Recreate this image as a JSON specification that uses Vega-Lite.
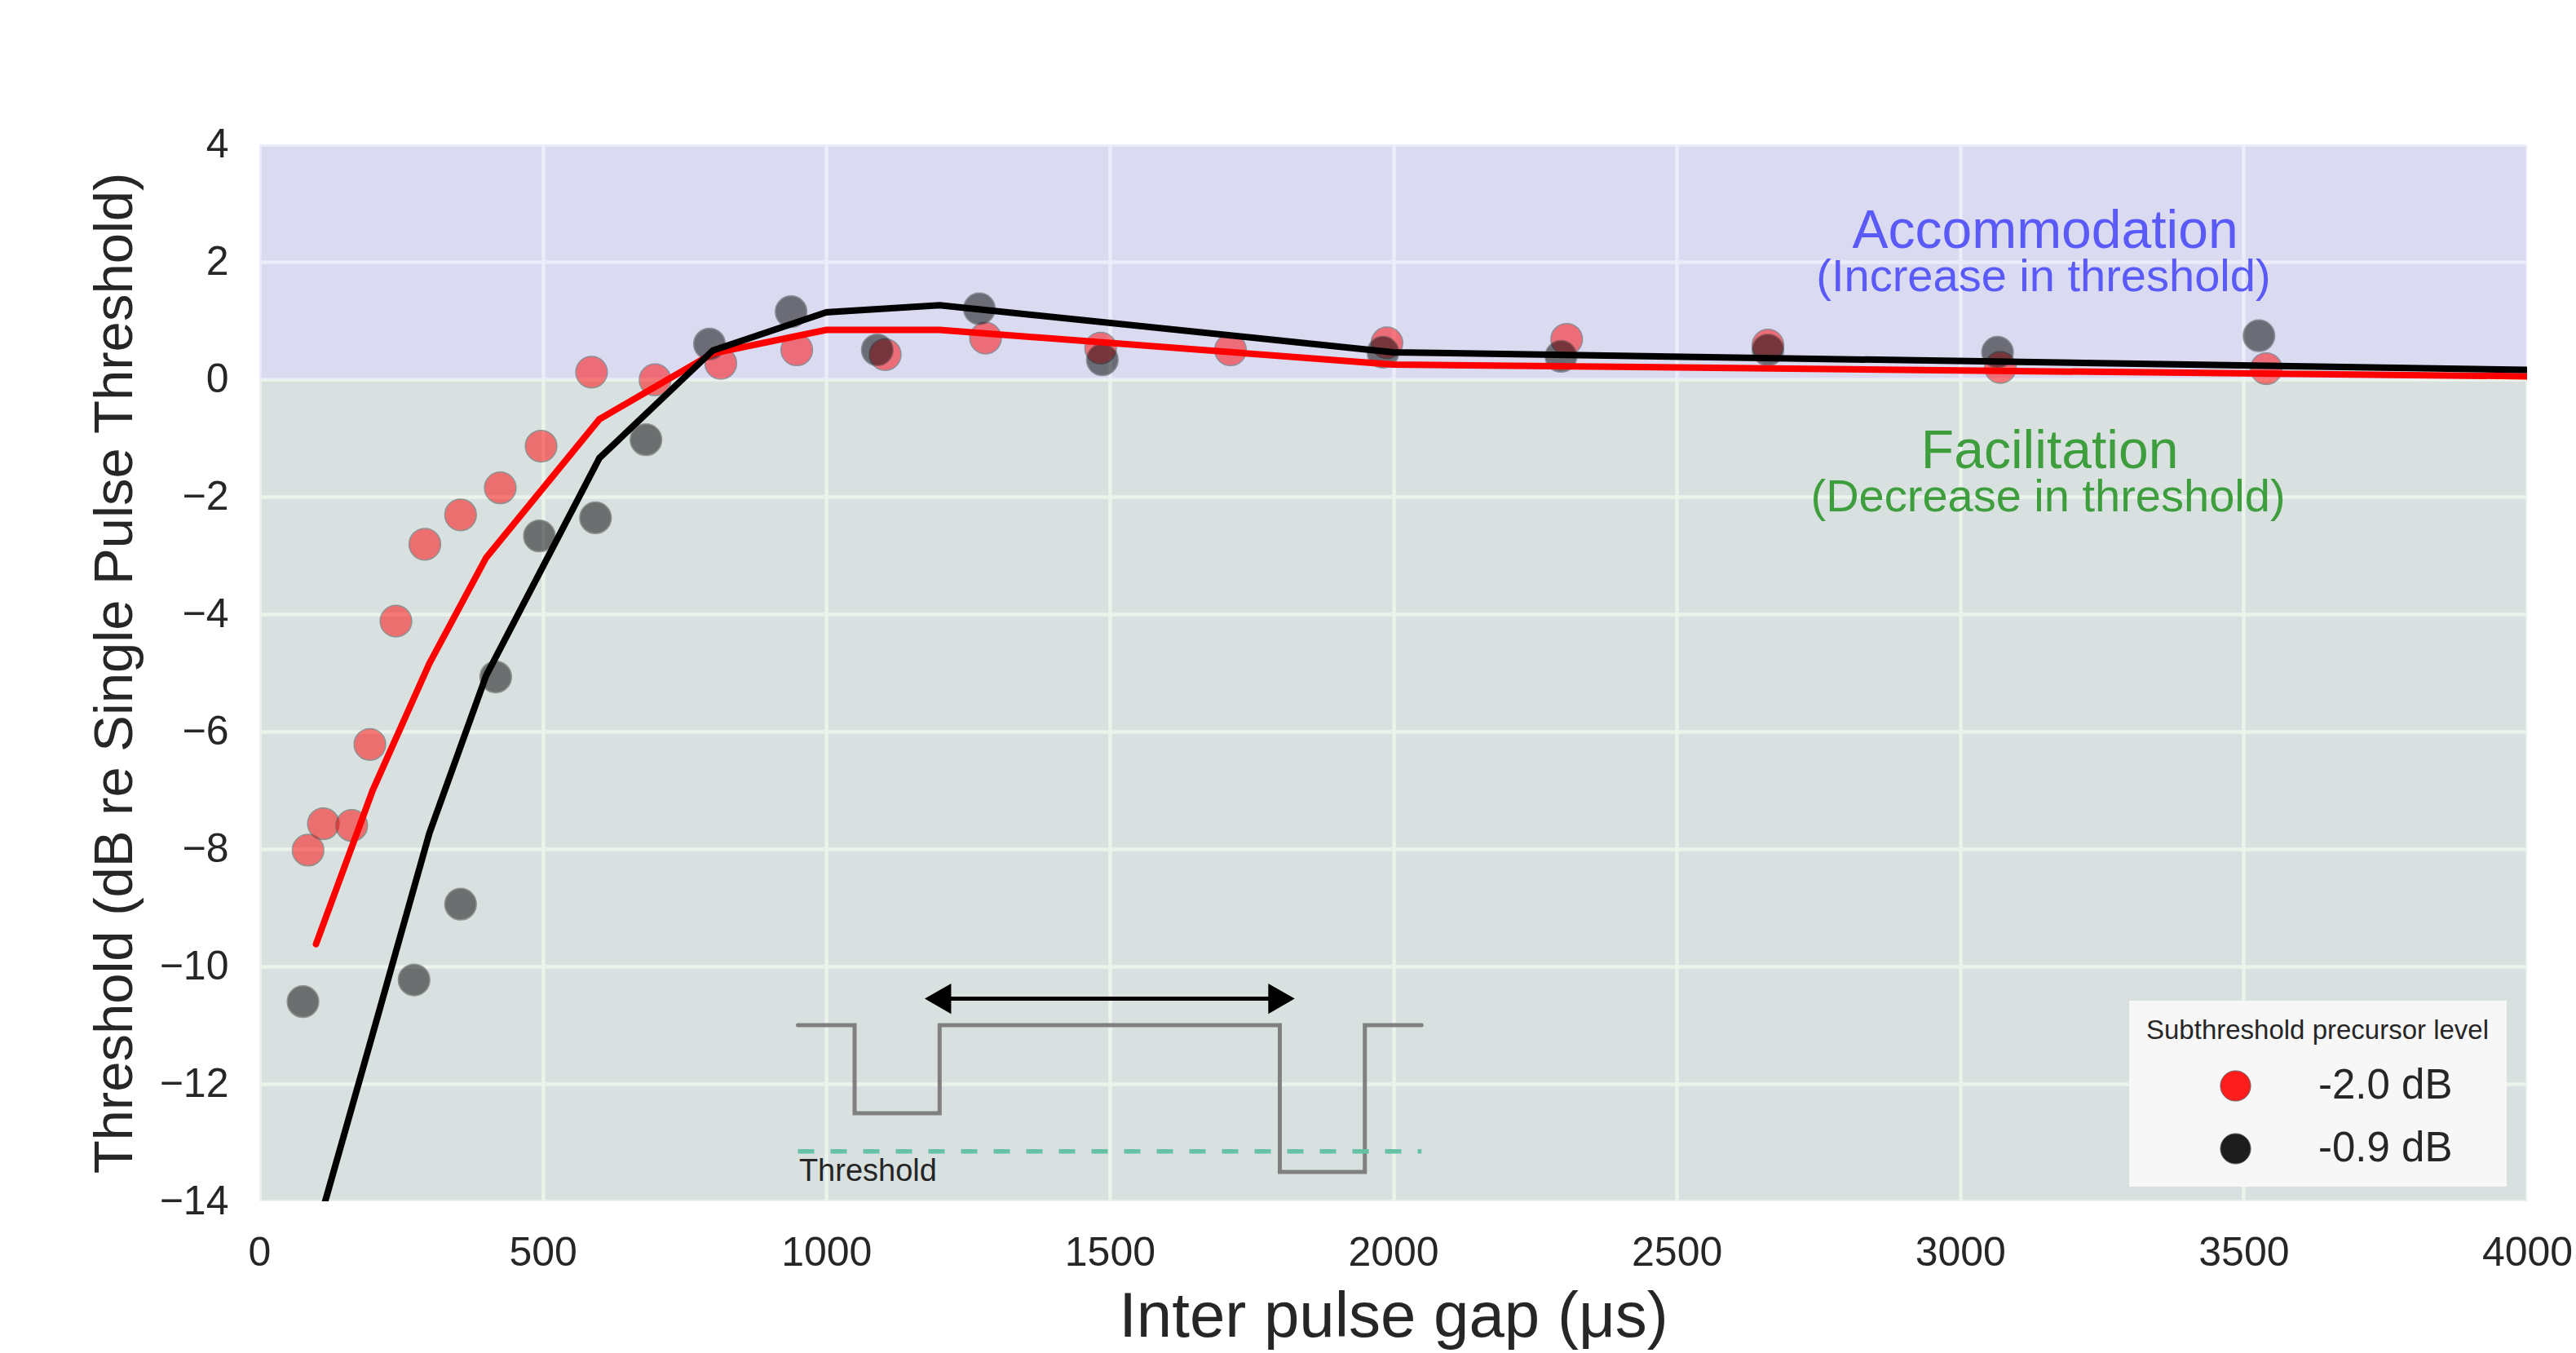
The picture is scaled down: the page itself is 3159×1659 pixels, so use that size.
{
  "$schema": "https://vega.github.io/schema/vega-lite/v6.json",
  "width": 2781,
  "height": 1296,
  "autosize": {"type": "none"},
  "padding": {"left": 318, "top": 177, "right": 60, "bottom": 186},
  "background": "white",
  "config": {
    "view": {"stroke": null, "fill": "#EAEAF2"},
    "font": "Liberation Sans",
    "axis": {
      "domain": false,
      "ticks": false,
      "grid": true,
      "gridColor": "white",
      "gridWidth": 4.5,
      "labelFont": "Liberation Sans",
      "labelFontSize": 50,
      "labelColor": "#262626",
      "labelPadding": 38,
      "labelFlush": false,
      "labelOverlap": false,
      "titleFont": "Liberation Sans",
      "titleColor": "#262626",
      "titleFontWeight": "normal"
    },
    "legend": {"labelFont": "Liberation Sans", "titleFont": "Liberation Sans"}
  },
  "datasets": {
    "regions": [
      {"region": "Accommodation", "gap": 0, "gapEnd": 4000, "thr": 0, "thrEnd": 4},
      {"region": "Facilitation", "gap": 0, "gapEnd": 4000, "thr": -14, "thrEnd": 0}
    ],
    "pts": [
      {"gap": 86, "thr": -8.02, "level": "-2.0 dB"},
      {"gap": 113, "thr": -7.57, "level": "-2.0 dB"},
      {"gap": 163, "thr": -7.6, "level": "-2.0 dB"},
      {"gap": 195, "thr": -6.22, "level": "-2.0 dB"},
      {"gap": 241, "thr": -4.12, "level": "-2.0 dB"},
      {"gap": 292, "thr": -2.81, "level": "-2.0 dB"},
      {"gap": 355, "thr": -2.31, "level": "-2.0 dB"},
      {"gap": 425, "thr": -1.85, "level": "-2.0 dB"},
      {"gap": 497, "thr": -1.14, "level": "-2.0 dB"},
      {"gap": 586, "thr": 0.12, "level": "-2.0 dB"},
      {"gap": 698, "thr": -0.01, "level": "-2.0 dB"},
      {"gap": 814, "thr": 0.27, "level": "-2.0 dB"},
      {"gap": 948, "thr": 0.5, "level": "-2.0 dB"},
      {"gap": 1104, "thr": 0.42, "level": "-2.0 dB"},
      {"gap": 1281, "thr": 0.7, "level": "-2.0 dB"},
      {"gap": 1484, "thr": 0.53, "level": "-2.0 dB"},
      {"gap": 1713, "thr": 0.5, "level": "-2.0 dB"},
      {"gap": 1989, "thr": 0.62, "level": "-2.0 dB"},
      {"gap": 2306, "thr": 0.68, "level": "-2.0 dB"},
      {"gap": 2661, "thr": 0.58, "level": "-2.0 dB"},
      {"gap": 3071, "thr": 0.2, "level": "-2.0 dB"},
      {"gap": 3540, "thr": 0.18, "level": "-2.0 dB"},
      {"gap": 77, "thr": -10.6, "level": "-0.9 dB"},
      {"gap": 273, "thr": -10.23, "level": "-0.9 dB"},
      {"gap": 355, "thr": -8.94, "level": "-0.9 dB"},
      {"gap": 417, "thr": -5.07, "level": "-0.9 dB"},
      {"gap": 494, "thr": -2.67, "level": "-0.9 dB"},
      {"gap": 593, "thr": -2.36, "level": "-0.9 dB"},
      {"gap": 682, "thr": -1.03, "level": "-0.9 dB"},
      {"gap": 794, "thr": 0.6, "level": "-0.9 dB"},
      {"gap": 938, "thr": 1.15, "level": "-0.9 dB"},
      {"gap": 1090, "thr": 0.5, "level": "-0.9 dB"},
      {"gap": 1270, "thr": 1.2, "level": "-0.9 dB"},
      {"gap": 1487, "thr": 0.33, "level": "-0.9 dB"},
      {"gap": 1982, "thr": 0.46, "level": "-0.9 dB"},
      {"gap": 2296, "thr": 0.39, "level": "-0.9 dB"},
      {"gap": 2661, "thr": 0.5, "level": "-0.9 dB"},
      {"gap": 3066, "thr": 0.46, "level": "-0.9 dB"},
      {"gap": 3527, "thr": 0.74, "level": "-0.9 dB"}
    ],
    "fit": [
      {"gap": 100, "thr": -9.62, "level": "-2.0 dB"},
      {"gap": 200, "thr": -7.0, "level": "-2.0 dB"},
      {"gap": 300, "thr": -4.84, "level": "-2.0 dB"},
      {"gap": 400, "thr": -3.04, "level": "-2.0 dB"},
      {"gap": 600, "thr": -0.68, "level": "-2.0 dB"},
      {"gap": 800, "thr": 0.44, "level": "-2.0 dB"},
      {"gap": 1000, "thr": 0.84, "level": "-2.0 dB"},
      {"gap": 1200, "thr": 0.84, "level": "-2.0 dB"},
      {"gap": 2000, "thr": 0.25, "level": "-2.0 dB"},
      {"gap": 4000, "thr": 0.05, "level": "-2.0 dB"},
      {"gap": 100, "thr": -14.55, "level": "-0.9 dB"},
      {"gap": 200, "thr": -11.15, "level": "-0.9 dB"},
      {"gap": 300, "thr": -7.73, "level": "-0.9 dB"},
      {"gap": 400, "thr": -5.05, "level": "-0.9 dB"},
      {"gap": 600, "thr": -1.34, "level": "-0.9 dB"},
      {"gap": 800, "thr": 0.49, "level": "-0.9 dB"},
      {"gap": 1000, "thr": 1.14, "level": "-0.9 dB"},
      {"gap": 1200, "thr": 1.26, "level": "-0.9 dB"},
      {"gap": 2000, "thr": 0.46, "level": "-0.9 dB"},
      {"gap": 4000, "thr": 0.16, "level": "-0.9 dB"}
    ],
    "pulse": [
      {"step": 1, "gap": 950, "thr": -11},
      {"step": 2, "gap": 1050, "thr": -11},
      {"step": 3, "gap": 1050, "thr": -12.5},
      {"step": 4, "gap": 1200, "thr": -12.5},
      {"step": 5, "gap": 1200, "thr": -11},
      {"step": 6, "gap": 1800, "thr": -11},
      {"step": 7, "gap": 1800, "thr": -13.5},
      {"step": 8, "gap": 1950, "thr": -13.5},
      {"step": 9, "gap": 1950, "thr": -11},
      {"step": 10, "gap": 2050, "thr": -11}
    ],
    "thresholdLine": [{"gap": 950, "gapEnd": 2050, "thr": -13.15}],
    "arrow": [{"gap": 1200, "gapEnd": 1800, "thr": -10.55}],
    "arrowHeads": [
      {"gap": 1197, "thr": -10.55, "side": "left"},
      {"gap": 1803, "thr": -10.55, "side": "right"}
    ],
    "notes": [
      {"gap": 3150, "thr": 2.24, "label": "Accommodation", "kind": "head", "region": "Accommodation"},
      {"gap": 3147, "thr": 1.5, "label": "(Increase in threshold)", "kind": "sub", "region": "Accommodation"},
      {"gap": 3158, "thr": -1.51, "label": "Facilitation", "kind": "head", "region": "Facilitation"},
      {"gap": 3155, "thr": -2.25, "label": "(Decrease in threshold)", "kind": "sub", "region": "Facilitation"},
      {"gap": 952, "thr": -13.65, "label": "Threshold", "kind": "small", "region": "none"}
    ]
  },
  "encoding": {
    "x": {
      "field": "gap", "type": "quantitative",
      "scale": {"domain": [0, 4000], "nice": false},
      "axis": {"values": [0, 500, 1000, 1500, 2000, 2500, 3000, 3500, 4000], "format": "d", "title": "Inter pulse gap (μs)", "titleFontSize": 78, "titlePadding": 15}
    },
    "y": {
      "field": "thr", "type": "quantitative",
      "scale": {"domain": [-14, 4], "nice": false},
      "axis": {"values": [-14, -12, -10, -8, -6, -4, -2, 0, 2, 4], "format": "d", "title": "Threshold (dB re Single Pulse Threshold)", "titleFontSize": 67, "titlePadding": 20}
    }
  },
  "layer": [
    {
      "data": {"name": "regions"},
      "mark": {"type": "rect", "opacity": 0.15},
      "encoding": {
        "x2": {"field": "gapEnd"},
        "y2": {"field": "thrEnd"},
        "color": {"condition": {"test": "datum.region === 'Accommodation'", "value": "#7f7fe5"}, "value": "#79ae7a"}
      }
    },
    {
      "data": {"name": "pulse"},
      "mark": {"type": "line", "color": "#808080", "strokeWidth": 5, "strokeCap": "round"},
      "encoding": {
        "order": {"field": "step", "type": "quantitative"}
      }
    },
    {
      "data": {"name": "thresholdLine"},
      "mark": {"type": "rule", "color": "#66c2a5", "strokeWidth": 5.5, "strokeDash": [20, 20]},
      "encoding": {
        "x2": {"field": "gapEnd"}
      }
    },
    {
      "data": {"name": "arrow"},
      "mark": {"type": "rule", "color": "#000000", "strokeWidth": 5},
      "encoding": {
        "x2": {"field": "gapEnd"}
      }
    },
    {
      "data": {"name": "arrowHeads"},
      "mark": {"type": "point", "filled": true, "color": "#000000", "opacity": 1, "size": 1400},
      "encoding": {
        "shape": {"condition": {"test": "datum.side === 'left'", "value": "triangle-left"}, "value": "triangle-right"}
      }
    },
    {
      "data": {"name": "pts"},
      "mark": {"type": "point", "filled": true, "size": 1500, "opacity": 0.5, "stroke": "#444444", "strokeWidth": 1.5},
      "encoding": {
        "color": {
          "field": "level", "type": "nominal",
          "scale": {"domain": ["-2.0 dB", "-0.9 dB"], "range": ["#ff0000", "#000000"]},
          "legend": {
            "orient": "none",
            "legendX": 2293,
            "legendY": 1050,
            "title": "Subthreshold precursor level",
            "titleFontSize": 33,
            "titleFontWeight": "normal",
            "titleColor": "#262626",
            "titlePadding": 25,
            "titleLimit": 800,
            "labelFontSize": 51,
            "labelColor": "#262626",
            "labelLimit": 800,
            "fillColor": "#f7f7f7",
            "padding": 21,
            "symbolType": "circle",
            "symbolSize": 1385,
            "symbolOffset": 84,
            "labelOffset": 76,
            "rowPadding": 25,
            "symbolStrokeWidth": 1,
            "symbolStrokeColor": "#555555",
            "symbolOpacity": 0.88,
            "encode": {"symbols": {"update": {"opacity": {"value": 0.88}}}}
          }
        }
      }
    },
    {
      "data": {"name": "fit"},
      "transform": [{"filter": "datum.level === '-2.0 dB'"}],
      "mark": {"type": "line", "color": "#ff0000", "strokeWidth": 8, "clip": true, "strokeCap": "round"}
    },
    {
      "data": {"name": "fit"},
      "transform": [{"filter": "datum.level === '-0.9 dB'"}],
      "mark": {"type": "line", "color": "#000000", "strokeWidth": 8, "clip": true}
    },
    {
      "data": {"name": "notes"},
      "transform": [{"filter": "datum.kind === 'head'"}],
      "mark": {"type": "text", "fontSize": 66, "align": "center", "baseline": "alphabetic"},
      "encoding": {
        "text": {"field": "label"},
        "color": {"condition": {"test": "datum.region === 'Accommodation'", "value": "#5a5af8"}, "value": "#3e9e3e"}
      }
    },
    {
      "data": {"name": "notes"},
      "transform": [{"filter": "datum.kind === 'sub'"}],
      "mark": {"type": "text", "fontSize": 56, "align": "center", "baseline": "alphabetic"},
      "encoding": {
        "text": {"field": "label"},
        "color": {"condition": {"test": "datum.region === 'Accommodation'", "value": "#5a5af8"}, "value": "#3e9e3e"}
      }
    },
    {
      "data": {"name": "notes"},
      "transform": [{"filter": "datum.kind === 'small'"}],
      "mark": {"type": "text", "fontSize": 38, "align": "left", "baseline": "alphabetic", "color": "#262626"},
      "encoding": {
        "text": {"field": "label"}
      }
    }
  ]
}
